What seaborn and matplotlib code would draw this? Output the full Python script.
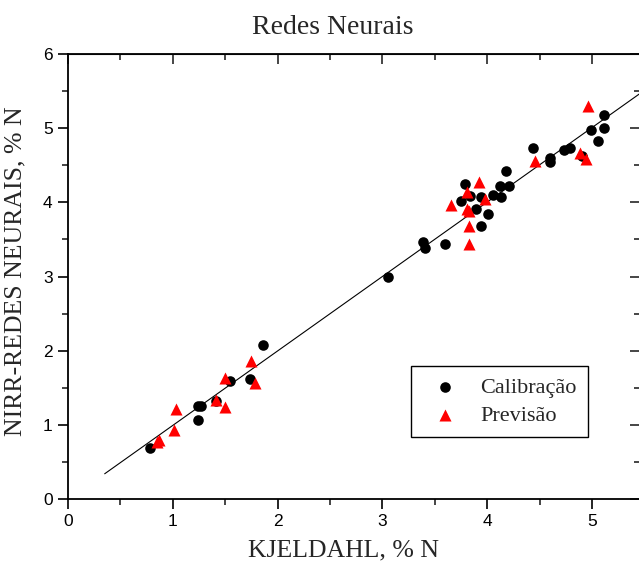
import numpy as np
import pandas as pd
import matplotlib
matplotlib.use("Agg")
import matplotlib.pyplot as plt
from matplotlib.ticker import MultipleLocator
import seaborn as sns

# valores
calib_x = [0.78, 1.245, 1.27, 1.245, 1.41, 1.545, 1.74, 1.86, 3.057, 3.389, 3.406, 3.597,
           3.748, 3.784, 3.836, 3.94, 3.896, 3.94, 4.01, 4.055, 4.125, 4.13, 4.18, 4.21,
           4.436, 4.595, 4.595, 4.735, 4.79, 4.90, 4.99, 5.053, 5.116, 5.116]
calib_y = [0.69, 1.26, 1.26, 1.07, 1.32, 1.59, 1.615, 2.075, 2.995, 3.464, 3.383, 3.433,
           4.019, 4.244, 4.09, 4.07, 3.91, 3.685, 3.843, 4.096, 4.217, 4.07, 4.42, 4.217,
           4.736, 4.60, 4.54, 4.705, 4.73, 4.62, 4.975, 4.83, 5.0, 5.18]

prev_x = [0.846, 0.867, 1.01, 1.033, 1.41, 1.495, 1.50, 1.749, 1.78, 3.65, 3.808, 3.917,
          3.808, 3.83, 3.977, 3.83, 3.83, 4.453, 4.887, 4.947, 4.958]
prev_y = [0.767, 0.79, 0.934, 1.209, 1.33, 1.24, 1.637, 1.858, 1.565, 3.97, 4.136, 4.276,
          3.915, 3.88, 4.046, 3.676, 3.44, 4.556, 4.668, 4.587, 5.30]

# reta de ajuste (extremos)
line_x = [0.35, 5.6]
line_y = [0.34, 5.61]

calib = pd.DataFrame({"x": calib_x, "y": calib_y})
prev = pd.DataFrame({"x": prev_x, "y": prev_y})

sns.set_style("ticks")
plt.rcParams["font.family"] = ["Liberation Serif", "DejaVu Serif"]

fig = plt.figure(figsize=(6.39, 5.61), dpi=100)
ax = fig.add_axes([68 / 639, 1 - 499 / 561, 572 / 639, 445 / 561])

ax.plot(line_x, line_y, color="black", lw=0.8, zorder=1)
sns.scatterplot(data=calib, x="x", y="y", ax=ax, color="black", marker="o",
                s=58, linewidth=0, label="Calibração", zorder=3)
sns.scatterplot(data=prev, x="x", y="y", ax=ax, color="red", marker="^",
                s=75, linewidth=0, label="Previsão", zorder=4)

ax.set_xlim(0, 5.458)
ax.set_ylim(0, 6)
ax.xaxis.set_major_locator(MultipleLocator(1))
ax.xaxis.set_minor_locator(MultipleLocator(0.5))
ax.yaxis.set_major_locator(MultipleLocator(1))
ax.yaxis.set_minor_locator(MultipleLocator(0.5))

for s in ax.spines.values():
    s.set_linewidth(1.3)
    s.set_color("black")

ax.tick_params(which="major", direction="out", length=7, width=1.2, pad=4,
               labelsize=12.5, colors="black")
ax.tick_params(which="minor", direction="out", length=4, width=1.2)
for lab in ax.get_xticklabels() + ax.get_yticklabels():
    lab.set_family(["Liberation Sans", "DejaVu Sans"])

# ticks espelhados para dentro
top = ax.secondary_xaxis("top")
top.xaxis.set_major_locator(MultipleLocator(1))
top.xaxis.set_minor_locator(MultipleLocator(0.5))
top.tick_params(which="major", direction="in", length=7, width=1.2, labeltop=False)
top.tick_params(which="minor", direction="in", length=4, width=1.2)
right = ax.secondary_yaxis("right")
right.yaxis.set_major_locator(MultipleLocator(1))
right.yaxis.set_minor_locator(MultipleLocator(0.5))
right.tick_params(which="major", direction="in", length=7, width=1.2, labelright=False)
right.tick_params(which="minor", direction="in", length=4, width=1.2)

ax.set_xlabel("KJELDAHL, % N", fontsize=18.5)
ax.set_ylabel("NIRR-REDES NEURAIS, % N", fontsize=18.5)
ax.xaxis.set_label_coords(0.481, -0.09)
ax.yaxis.set_label_coords(-0.072, 0.512)

fig.text(333 / 639, 1 - 28 / 561, "Redes Neurais", fontsize=20,
         ha="center", va="center")

leg = ax.legend(loc="lower left", bbox_to_anchor=(0.6, 0.139), fontsize=16,
                frameon=True, fancybox=False, edgecolor="black", framealpha=1,
                handletextpad=0.6, labelspacing=0.35, borderaxespad=0,
                borderpad=0.5, markerscale=1.0)
leg.get_frame().set_linewidth(1.0)

fig.savefig("out.png", dpi=100)
